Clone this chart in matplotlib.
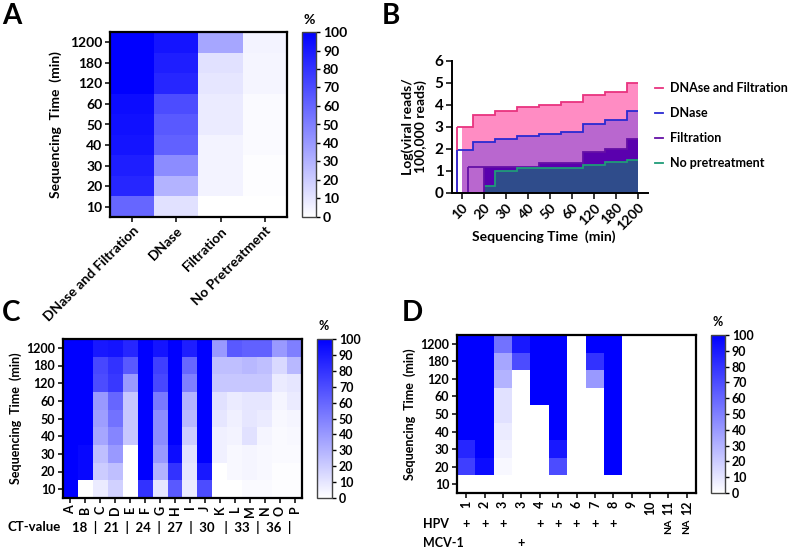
import numpy as np
import matplotlib
matplotlib.use("Agg")
import matplotlib.pyplot as plt
from matplotlib.colors import LinearSegmentedColormap
from matplotlib.lines import Line2D

plt.rcParams['font.family'] = ['Lato', 'DejaVu Sans']
plt.rcParams['font.weight'] = 'bold'
plt.rcParams['axes.labelweight'] = 'bold'

# ---------------- data ----------------
times = ['10', '20', '30', '40', '50', '60', '120', '180', '1200']

# Panel A (rows: 10 ... 1200, columns: treatments)
a_treatments = ['DNase and Filtration', 'DNase', 'Filtration', 'No Pretreatment']
a_dnase_filt = [60, 85, 88, 92, 93, 95, 100, 100, 100]
a_dnase = [12, 30, 45, 62, 65, 70, 85, 88, 92]
a_filt = [0, 5, 5, 5, 8, 8, 10, 12, 35]
a_nopre = [0, 1, 1, 2, 2, 2, 4, 4, 5]

# Panel B
b_labels = ['DNAse and Filtration', 'DNase', 'Filtration', 'No pretreatment']
b_dnase_filt = [3.0, 3.55, 3.72, 3.9, 4.02, 4.15, 4.45, 4.6, 4.98]
b_dnase = [1.97, 2.32, 2.45, 2.6, 2.67, 2.78, 3.12, 3.3, 3.72]
b_filt = [1.17, 1.17, 1.17, 1.17, 1.38, 1.38, 1.87, 2.02, 2.45]
b_nopre = [0.0, 0.3, 1.0, 1.15, 1.15, 1.15, 1.28, 1.4, 1.52]

# Panel C (columns A..P, each list: 10 ... 1200)
c_samples = list('ABCDEFGHIJKLMNOP')
c_values = {
    'A': [100, 100, 100, 100, 100, 100, 100, 100, 100],
    'B': [0, 97, 97, 100, 100, 100, 100, 100, 100],
    'C': [8, 20, 25, 35, 38, 40, 70, 72, 90],
    'D': [18, 25, 40, 48, 55, 60, 78, 80, 92],
    'E': [0, 0, 0, 22, 22, 22, 40, 65, 85],
    'F': [80, 100, 100, 100, 100, 100, 100, 100, 100],
    'G': [10, 30, 40, 45, 45, 52, 72, 75, 92],
    'H': [65, 80, 95, 100, 100, 100, 100, 100, 100],
    'I': [8, 10, 12, 20, 28, 30, 50, 60, 88],
    'J': [70, 90, 100, 100, 100, 100, 100, 100, 100],
    'K': [0, 0, 6, 6, 10, 12, 22, 25, 40],
    'L': [0, 3, 3, 5, 6, 8, 22, 25, 65],
    'M': [2, 4, 4, 12, 10, 10, 22, 28, 62],
    'N': [2, 3, 3, 4, 8, 10, 22, 25, 62],
    'O': [1, 1, 2, 2, 3, 4, 8, 15, 40],
    'P': [1, 1, 2, 3, 4, 8, 10, 28, 50],
}
c_ct_text = '18  |  21  |  24  |  27  |  30   |  33  |  36  |'

# Panel D (columns, each list: 10 ... 1200)
d_samples = ['1', '2', '3', '3', '4', '5', '6', '7', '8', '9', '10', '11', '12']
d_values = [
    [0, 75, 85, 100, 100, 100, 100, 100, 100],
    [0, 95, 100, 100, 100, 100, 100, 100, 100],
    [0, 3, 6, 8, 12, 12, 30, 35, 55],
    [0, 0, 0, 0, 0, 0, 0, 70, 90],
    [0, 0, 0, 0, 0, 100, 100, 100, 100],
    [0, 70, 90, 100, 100, 100, 100, 100, 100],
    [0, 0, 0, 0, 0, 0, 0, 0, 0],
    [0, 0, 0, 0, 0, 0, 40, 80, 100],
    [0, 100, 100, 100, 100, 100, 100, 100, 100],
    [0, 0, 0, 0, 0, 0, 0, 0, 0],
    [0, 0, 0, 0, 0, 0, 0, 0, 0],
    [0, 0, 0, 0, 0, 0, 0, 0, 0],
    [0, 0, 0, 0, 0, 0, 0, 0, 0],
]
d_hpv = ['+', '+', '+', '', '+', '+', '+', '+', '+', '', '', 'NA', 'NA']
d_mcv = ['', '', '', '+', '', '', '', '', '', '', '', '', '']

cbar_ticks = list(range(0, 101, 10))

# ---------------- figure ----------------
W, H = 791, 549
fig = plt.figure(figsize=(W / 100, H / 100), dpi=100)
cmap = LinearSegmentedColormap.from_list('wb', ['#ffffff', '#0000ff'])


def rect(l, t, r, b):
    return [l / W, 1 - b / H, (r - l) / W, (b - t) / H]


def heat(ax_rect, cb_rect, data, xlabels, xrot, tickfs, pct_xy, ylab_x):
    ax = fig.add_axes(rect(*ax_rect))
    im = ax.imshow(data, cmap=cmap, vmin=0, vmax=100, aspect='auto',
                   origin='lower', interpolation='nearest')
    ax.set_yticks(range(len(times)))
    ax.set_yticklabels(times, fontsize=tickfs)
    ax.set_xticks(range(len(xlabels)))
    if xrot == 45:
        ax.set_xticklabels(xlabels, rotation=45, ha='right',
                           rotation_mode='anchor', fontsize=tickfs)
    else:
        ax.set_xticklabels(xlabels, rotation=90, fontsize=tickfs)
    ax.tick_params(direction='out', length=3.5, width=1.1, pad=2)
    for s in ax.spines.values():
        s.set_linewidth(1.6)
    ax.set_ylabel('Sequencing  Time  (min)', fontsize=tickfs)
    ax.yaxis.set_label_coords(ylab_x, 0.5)
    cax = fig.add_axes(rect(*cb_rect))
    cb = fig.colorbar(im, cax=cax, ticks=cbar_ticks)
    cb.outline.set_linewidth(1.0)
    cb.outline.set_edgecolor('#444444')
    cax.tick_params(labelsize=tickfs, length=3, width=1, pad=2)
    fig.text(pct_xy[0] / W, 1 - pct_xy[1] / H, '%', fontsize=tickfs,
             ha='center', va='center')
    return ax


# Panel A
a_data = np.array([a_dnase_filt, a_dnase, a_filt, a_nopre]).T
axA = heat((110, 32, 287, 217), (302, 32, 316, 217), a_data, a_treatments,
           45, 10, (309, 20), -0.27)

# Panel C
c_data = np.array([c_values[k] for k in c_samples]).T
axC = heat((63, 339, 302, 498), (317, 339, 332, 498), c_data, c_samples,
           90, 9, (324, 326), -0.17)
fig.text(8 / W, 1 - 527 / H, 'CT-value', fontsize=9.5, ha='left', va='center')
fig.text(72 / W, 1 - 527 / H, c_ct_text, fontsize=9.5, ha='left', va='center')

# Panel D
d_data = np.array(d_values).T
axD = heat((457, 335, 696, 493), (711, 335, 725, 493), d_data, d_samples,
           90, 9, (718, 322), -0.17)
xt = axD.get_xaxis_transform()
for i, (h, m) in enumerate(zip(d_hpv, d_mcv)):
    if h == '+':
        axD.text(i, -0.195, h, transform=xt, ha='center', va='center', fontsize=9)
    elif h == 'NA':
        axD.text(i, -0.21, h, transform=xt, ha='center', va='center',
                 fontsize=7.5, rotation=90)
    if m == '+':
        axD.text(i, -0.315, m, transform=xt, ha='center', va='center', fontsize=9)
fig.text(423 / W, 1 - 524 / H, 'HPV', fontsize=9, ha='left', va='center')
fig.text(423 / W, 1 - 543 / H, 'MCV-1', fontsize=9, ha='left', va='center')

# Panel B
axB = fig.add_axes(rect(452, 61, 648, 193))
n = len(times)
x = np.arange(n)
mid = list(x[:-1] + 0.5)
fill_edges = [0.0] + mid + [float(n - 1)]
line_edges = [-0.22] + mid + [float(n - 1)]
late_edges = [1.0] + mid[1:] + [float(n - 1)]

fills = ['#ff8cc3', '#b967cf', '#5a00ae', '#2f4c8b']
lines = ['#e8337f', '#2a2ad2', '#6410a6', '#1f9c78']

# DNase and Filtration
axB.stairs(b_dnase_filt, fill_edges, baseline=0, fill=True, color=fills[0], lw=0)
axB.stairs(b_dnase_filt, line_edges, baseline=None, color=lines[0], lw=1.3)
axB.vlines(line_edges[0], 0, b_dnase_filt[0], color=lines[0], lw=1.3)
# DNase
axB.stairs(b_dnase, fill_edges, baseline=0, fill=True, color=fills[1], lw=0)
axB.stairs(b_dnase, line_edges, baseline=None, color=lines[1], lw=1.3)
axB.vlines(line_edges[0], 0, b_dnase[0], color=lines[1], lw=1.3)
# Filtration
axB.stairs(b_filt[1:], late_edges, baseline=0, fill=True, color=fills[2], lw=0)
f_edges = [0.27] + mid + [float(n - 1)]
axB.stairs(b_filt, f_edges, baseline=None, color=lines[2], lw=1.3)
axB.vlines([f_edges[0], 1.0], 0, b_filt[0], color=lines[2], lw=1.3)
# No pretreatment
axB.stairs(b_nopre[1:], late_edges, baseline=0, fill=True, color=fills[3], lw=0)
axB.stairs(b_nopre[1:], late_edges, baseline=None, color=lines[3], lw=1.3)

axB.set_xlim(-0.45, n - 1 + 0.45)
axB.set_ylim(0, 6)
axB.set_yticks(range(0, 7))
axB.set_xticks(x)
axB.set_xticklabels(times, rotation=45, ha='right', rotation_mode='anchor')
axB.tick_params(axis='y', labelsize=11, direction='out', length=4, width=1.1, pad=2)
axB.tick_params(axis='x', labelsize=10, direction='out', length=4, width=1.1, pad=2)
for s in ['top', 'right']:
    axB.spines[s].set_visible(False)
for s in ['left', 'bottom']:
    axB.spines[s].set_linewidth(1.4)
axB.set_ylabel('Log(viral reads/\n100,000 reads)', fontsize=10, linespacing=1.0)
axB.yaxis.set_label_coords(-0.13, 0.5)
axB.set_xlabel('Sequencing Time  (min)', fontsize=10)
axB.xaxis.set_label_coords(0.47, -0.28)
handles = [Line2D([], [], color=c, lw=1.3) for c in lines]
fig.legend(handles, b_labels, loc='upper left', bbox_to_anchor=(655 / W, 1 - 82 / H),
           frameon=False, fontsize=9, handlelength=0.65, handletextpad=0.55,
           labelspacing=1.05, borderaxespad=0, borderpad=0)

# panel letters
for letter, px, py in [('A', 2, 16), ('B', 382, 16), ('C', 2, 313), ('D', 402, 313)]:
    fig.text(px / W, 1 - py / H, letter, fontsize=20, fontweight='bold',
             ha='left', va='center')

fig.savefig('out.png', dpi=100)
